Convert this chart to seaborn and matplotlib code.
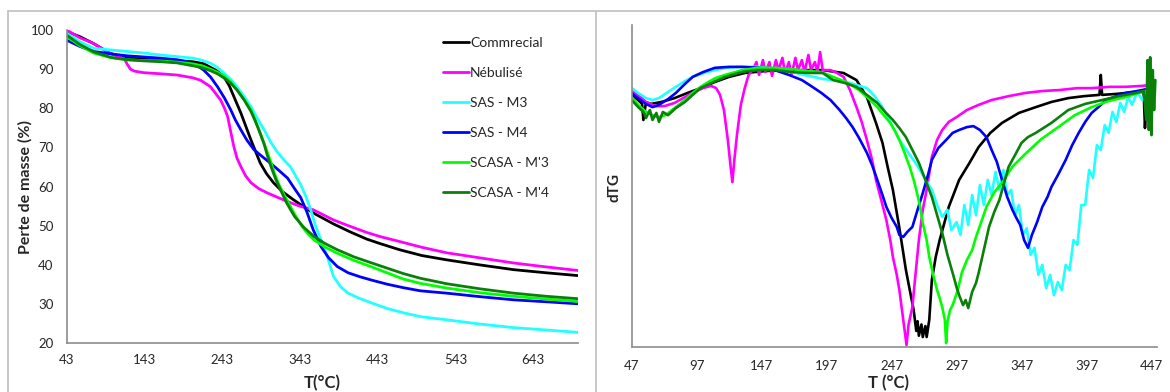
import matplotlib
matplotlib.use("Agg")
import matplotlib.pyplot as plt
import pandas as pd
import seaborn as sns
from matplotlib.lines import Line2D

sns.set_style("white")
plt.rcParams["font.family"] = ["Lato", "DejaVu Sans"]

SAMPLES = ["Commrecial", "Nébulisé", "SAS - M3", "SAS - M4", "SCASA - M'3", "SCASA - M'4"]
COLORS = ["#000000", "#ff00ff", "#22ffff", "#0000ff", "#00ff00", "#0a800a"]

# ---------------- TG curves: temperature (°C) / mass (%) ----------------
tg_com_T = [43, 60, 77, 99, 120, 143, 170, 189, 205, 219, 236, 245, 252, 258, 267, 280, 292, 300, 309, 320, 335, 350, 360, 386, 407, 429, 447, 471, 500, 532, 575, 618, 660, 700]
tg_com_m = [99.6, 98.3, 96.6, 94.0, 92.9, 92.5, 92.3, 92.1, 91.9, 91.4, 89.6, 88.1, 85.8, 83.0, 78.8, 71.9, 66.0, 63.3, 61.0, 58.8, 56.6, 54.6, 53.3, 50.5, 48.5, 46.6, 45.4, 43.9, 42.4, 41.3, 40.0, 38.8, 38.0, 37.3]

tg_neb_T = [43, 60, 77, 99, 110, 117, 121, 125, 130, 142, 165, 185, 205, 215, 228, 241, 246, 250, 254, 258, 262, 267, 273, 280, 290, 301, 315, 327, 343, 360, 386, 407, 429, 447, 471, 500, 532, 575, 618, 660, 700]
tg_neb_m = [100.0, 98.0, 96.6, 94.0, 93.2, 92.7, 91.2, 90.0, 89.5, 89.1, 88.8, 88.5, 87.8, 87.2, 85.5, 82.1, 80.0, 77.9, 74.0, 70.2, 67.3, 65.1, 62.8, 61.0, 59.5, 58.4, 57.2, 56.2, 55.0, 54.1, 51.5, 49.9, 48.3, 47.2, 46.0, 44.5, 43.1, 41.8, 40.5, 39.5, 38.6]

tg_m3_T = [43, 60, 78, 100, 121, 143, 164, 185, 206, 218, 228, 237, 245, 254, 262, 271, 280, 288, 297, 305, 314, 322, 331, 339, 344, 350, 357, 363, 370, 378, 386, 395, 404, 418, 434, 455, 476, 498, 532, 575, 618, 660, 700]
tg_m3_m = [99.2, 97.0, 95.3, 94.9, 94.5, 94.1, 93.6, 93.2, 92.8, 92.2, 91.5, 90.4, 89.0, 87.4, 85.5, 83.1, 80.4, 77.5, 74.5, 71.5, 68.8, 66.9, 65.0, 62.2, 60.5, 57.8, 54.0, 50.0, 46.4, 42.2, 37.1, 34.5, 32.9, 31.6, 30.4, 28.9, 27.8, 26.8, 26.0, 24.9, 24.0, 23.4, 22.8]

tg_m4_T = [43, 60, 78, 100, 121, 143, 164, 185, 198, 210, 219, 228, 237, 246, 254, 260, 267, 275, 284, 295, 305, 315, 327, 335, 344, 352, 360, 370, 380, 391, 405, 420, 434, 455, 476, 498, 532, 575, 618, 660, 700]
tg_m4_m = [97.4, 95.8, 94.5, 93.9, 93.4, 93.1, 92.8, 92.4, 91.9, 91.0, 89.8, 88.0, 85.5, 82.6, 79.6, 77.0, 74.5, 71.8, 69.4, 67.6, 66.0, 64.3, 62.2, 59.8, 57.2, 53.5, 49.0, 44.7, 41.8, 39.6, 38.0, 37.0, 36.2, 35.1, 34.2, 33.4, 32.8, 31.9, 31.1, 30.6, 30.1]

tg_sm3_T = [43, 60, 78, 100, 121, 143, 164, 185, 207, 218, 228, 237, 245, 254, 262, 271, 280, 286, 292, 297, 301, 306, 310, 316, 323, 330, 336, 345, 353, 361, 375, 391, 412, 434, 455, 476, 498, 532, 575, 618, 660, 700]
tg_sm3_m = [98.3, 96.0, 94.1, 92.9, 92.4, 92.2, 92.1, 91.8, 91.3, 90.8, 90.0, 89.2, 88.3, 86.7, 84.7, 82.3, 79.6, 76.8, 73.6, 71.0, 68.8, 66.0, 63.5, 60.5, 57.8, 55.2, 53.0, 50.0, 48.0, 46.4, 44.6, 43.0, 41.2, 39.6, 38.0, 36.4, 35.3, 34.1, 32.9, 32.0, 31.3, 30.7]

tg_sm4_T = [43, 60, 78, 100, 121, 143, 164, 185, 207, 218, 228, 237, 245, 254, 262, 271, 280, 286, 292, 297, 301, 306, 312, 318, 326, 336, 348, 361, 375, 391, 412, 434, 455, 476, 498, 532, 575, 618, 660, 700]
tg_sm4_m = [98.7, 96.3, 94.4, 93.0, 92.4, 92.1, 91.9, 91.6, 90.8, 90.3, 89.6, 88.8, 87.8, 86.4, 84.7, 82.2, 79.2, 76.5, 73.5, 70.8, 68.0, 65.0, 61.8, 59.2, 55.8, 52.4, 49.6, 47.3, 45.5, 43.9, 42.1, 40.6, 39.2, 37.8, 36.6, 35.2, 33.9, 32.8, 32.0, 31.4]

# ---------------- dTG curves: temperature (°C) / signal (a.u.) ----------------
dtg_com_T = [47, 52, 55, 56, 58, 62, 70, 80, 90, 100, 111, 122, 134, 150, 169, 194, 210, 220, 228, 235, 240, 244, 248, 253, 258, 261, 264, 266, 267, 268, 270, 271, 273, 274, 276, 278, 281, 284, 291, 299, 307, 314, 323, 332, 345, 358, 370, 383, 395, 407, 408, 409, 420, 435, 441, 442, 443, 445]
dtg_com_v = [78.3, 76.7, 75.5, 70.5, 76.0, 75.5, 76.1, 77.3, 78.9, 80.4, 82.3, 83.9, 85.1, 85.7, 86.0, 86.0, 85.1, 82.9, 77.6, 69.6, 63.4, 55.9, 48.8, 37.0, 24.0, 17.7, 11.5, 5.0, 8.0, 3.5, 7.0, 3.1, 6.5, 3.1, 8.4, 20.8, 28.0, 33.2, 43.5, 51.9, 57.2, 62.1, 66.5, 69.6, 72.7, 74.5, 76.1, 77.3, 77.9, 78.3, 84.5, 78.3, 78.6, 79.2, 79.2, 68.0, 75.0, 79.0]

dtg_neb_T = [47, 52, 58, 65, 72, 80, 88, 95, 102, 108, 112, 115, 118, 121, 123, 124.5, 126, 128, 131, 134, 137, 140, 143, 145, 148, 150, 153, 155, 158, 160, 163, 165, 168, 170, 173, 175, 178, 180, 183, 185, 188, 190, 192, 194, 200, 205, 210, 215, 220, 224, 228, 232, 235, 239, 243, 246, 248, 251, 253, 255, 257, 258.5, 260, 263, 265, 268, 271, 274, 278, 282, 286, 291, 297, 305, 314, 324, 337, 350, 363, 376, 390, 401, 415, 427, 440, 447]
dtg_neb_v = [79.8, 78.3, 76.1, 74.8, 74.8, 75.8, 77.6, 79.2, 80.4, 81.1, 80.4, 78.3, 73.6, 64.3, 56.5, 51.2, 58.1, 65.8, 75.2, 80.4, 84.5, 86.0, 88.5, 84.5, 89.1, 85.4, 88.5, 84.2, 89.1, 86.0, 89.8, 85.1, 88.5, 84.5, 89.8, 86.0, 89.1, 85.4, 90.7, 86.0, 88.5, 85.4, 91.6, 86.0, 86.0, 85.1, 83.9, 79.8, 74.5, 69.9, 64.3, 58.1, 51.9, 45.7, 39.4, 33.2, 28.0, 22.4, 17.7, 11.5, 5.3, 0.6, 6.8, 12.4, 20.8, 33.2, 42.6, 48.8, 59.0, 64.3, 67.4, 69.9, 71.4, 73.6, 75.2, 76.7, 77.9, 78.9, 79.5, 79.8, 80.4, 80.4, 80.8, 80.8, 81.1, 81.4]

dtg_m3_T = [47, 52, 58, 63, 68, 75, 81, 88, 94, 105, 119, 132, 144, 157, 170, 183, 195, 202, 215, 228, 234, 240, 246, 253, 260, 266, 272, 278, 282, 286, 290, 293, 297, 300, 303, 306, 309, 312, 315, 318, 321, 324, 327, 330, 333, 336, 339, 342, 345, 348, 351, 354, 357, 360, 363, 366, 369, 372, 375, 378, 381, 384, 387, 390, 393, 396, 399, 402, 405, 408, 411, 414, 417, 420, 423, 426, 429, 432, 436, 440, 444, 447]
dtg_m3_v = [80.4, 78.9, 77.3, 76.7, 77.3, 79.2, 80.8, 82.6, 83.9, 85.4, 86.7, 87.0, 87.0, 86.3, 85.4, 84.2, 83.2, 82.9, 82.0, 80.4, 77.9, 74.5, 69.9, 64.3, 60.3, 56.8, 52.8, 48.8, 44.1, 40.4, 42.6, 36.3, 38.8, 34.8, 44.1, 37.9, 47.2, 40.9, 50.3, 44.1, 51.9, 47.2, 54.4, 48.8, 55.0, 47.2, 48.8, 40.9, 44.1, 34.8, 36.9, 28.6, 30.8, 22.4, 25.5, 18.3, 22.4, 16.1, 20.2, 17.7, 25.5, 23.9, 33.2, 31.7, 44.1, 44.1, 55.0, 52.5, 62.7, 61.2, 68.9, 66.5, 73.0, 69.9, 75.8, 73.0, 77.6, 75.2, 79.2, 76.7, 80.4, 78.3]

dtg_m4_T = [47, 52, 58, 63, 68, 75, 81, 88, 94, 102, 111, 122, 132, 145, 157, 168, 178, 186, 193, 200, 207, 212, 217, 222, 228, 232, 236, 240, 243, 247, 251, 253, 256, 259, 263, 267, 271, 275, 278, 283, 289, 294, 299, 305, 310, 315, 320, 324, 328, 332, 336, 340, 343, 346, 349, 352, 355, 359, 363, 367, 370, 375, 381, 386, 391, 396, 401, 407, 412, 420, 427, 436, 447]
dtg_m4_v = [78.9, 77.3, 75.5, 74.5, 75.2, 77.0, 78.9, 81.7, 83.9, 85.4, 86.7, 87.0, 87.0, 86.7, 86.0, 84.5, 82.9, 80.8, 78.9, 76.7, 73.6, 71.1, 68.3, 64.9, 60.3, 56.5, 51.9, 47.2, 43.5, 40.1, 37.3, 34.8, 34.2, 35.7, 37.3, 42.6, 47.8, 53.4, 58.1, 61.8, 64.3, 66.5, 67.4, 68.3, 68.6, 67.4, 65.2, 61.2, 57.5, 51.9, 46.6, 42.6, 40.1, 37.9, 33.2, 30.8, 34.8, 38.8, 43.5, 46.6, 49.7, 53.4, 58.1, 62.7, 66.5, 69.9, 72.7, 74.8, 76.7, 77.9, 78.9, 79.5, 80.4]

dtg_sm3_T = [47, 52, 58, 63, 68, 73, 81, 88, 94, 100, 106, 112, 119, 132, 144, 157, 170, 183, 193, 202, 212, 222, 229, 236, 241, 246, 250, 253, 257, 261, 264, 266, 269, 271, 274, 276, 279, 282, 284, 286, 288, 289, 290, 292, 294, 298, 301, 305, 309, 312, 316, 320, 326, 332, 340, 350, 362, 376, 388, 401, 414, 427, 437, 445]
dtg_sm3_v = [77.6, 75.2, 73.0, 72.0, 71.4, 72.0, 74.5, 76.7, 78.9, 80.8, 82.3, 83.6, 84.5, 86.0, 86.7, 86.7, 86.3, 85.7, 85.4, 83.9, 82.3, 79.8, 77.3, 74.5, 72.0, 69.6, 66.8, 64.3, 60.3, 55.9, 51.9, 48.8, 43.5, 38.5, 33.2, 28.0, 22.4, 17.7, 15.2, 12.4, 8.4, 1.2, 7.8, 11.5, 13.0, 17.7, 23.0, 27.0, 30.1, 34.2, 38.8, 43.5, 48.0, 51.0, 56.0, 60.0, 64.5, 68.5, 72.0, 74.5, 76.4, 77.6, 78.9, 79.8]

dtg_sm4_T = [47, 52, 56, 58, 61, 63, 66, 68, 71, 75, 81, 88, 94, 100, 110, 119, 132, 144, 157, 170, 183, 194, 202, 211, 220, 228, 236, 242, 248, 253, 258, 263, 268, 273, 278, 282, 286, 290, 294, 297, 299, 302, 304, 306, 309, 312, 314, 318, 322, 326, 330, 337, 342, 347, 352, 358, 370, 383, 396, 409, 422, 435, 441, 443, 444, 445, 446, 447, 448, 449, 450]
dtg_sm4_v = [76.7, 74.5, 73.0, 71.1, 73.6, 70.5, 72.7, 69.9, 73.0, 72.0, 74.2, 76.1, 78.3, 80.4, 82.3, 83.9, 85.4, 86.0, 86.0, 85.4, 85.1, 85.1, 82.9, 82.0, 80.8, 78.3, 75.8, 73.0, 70.5, 68.0, 65.2, 61.2, 57.2, 51.9, 46.6, 41.0, 35.4, 28.6, 23.0, 18.6, 16.1, 13.0, 14.6, 12.1, 17.1, 19.9, 23.0, 30.1, 37.3, 41.9, 45.7, 55.9, 59.6, 63.4, 65.2, 66.5, 69.6, 73.6, 75.5, 76.7, 77.9, 78.9, 79.5, 70.5, 89.1, 67.4, 90.0, 65.8, 86.0, 73.6, 82.9]


def long_frame(series, value_name):
    parts = []
    for name, (t, v) in zip(SAMPLES, series):
        parts.append(pd.DataFrame({"T": t, value_name: v, "echantillon": name}))
    return pd.concat(parts, ignore_index=True)


tg = long_frame([(tg_com_T, tg_com_m), (tg_neb_T, tg_neb_m), (tg_m3_T, tg_m3_m),
                 (tg_m4_T, tg_m4_m), (tg_sm3_T, tg_sm3_m), (tg_sm4_T, tg_sm4_m)], "masse")
dtg = long_frame([(dtg_com_T, dtg_com_v), (dtg_neb_T, dtg_neb_v), (dtg_m3_T, dtg_m3_v),
                  (dtg_m4_T, dtg_m4_v), (dtg_sm3_T, dtg_sm3_v), (dtg_sm4_T, dtg_sm4_v)], "dTG")
palette = dict(zip(SAMPLES, COLORS))

fig = plt.figure(figsize=(11.7, 3.92), dpi=100)
fig.patch.set_facecolor("white")

# chart frames
frame_kw = dict(color="#c4c4c4", lw=1.3, transform=fig.transFigure)
fig.add_artist(Line2D([0.0070, 1.0], [0.9719, 0.9719], **frame_kw))
fig.add_artist(Line2D([0.0070, 0.0070], [0.0, 0.9719], **frame_kw))
fig.add_artist(Line2D([0.5098, 0.5098], [0.0, 0.9719], **frame_kw))

spine_col = "#8c8c8c"
tick_col = "#262626"

# ---- left: TG ----
ax1 = fig.add_axes([0.0570, 0.1242, 0.4373, 0.7993])
sns.lineplot(data=tg, x="T", y="masse", hue="echantillon", hue_order=SAMPLES,
             palette=palette, estimator=None, sort=False, lw=2.0, ax=ax1, legend=False)
ax1.set_xlim(43, 701)
ax1.set_ylim(20, 100)
ax1.set_xticks(range(43, 700, 100))
ax1.set_yticks(range(20, 101, 10))
for s in ("top", "right"):
    ax1.spines[s].set_visible(False)
for s in ("left", "bottom"):
    ax1.spines[s].set_color(spine_col)
    ax1.spines[s].set_linewidth(1.2)
ax1.tick_params(axis="both", direction="out", length=3, width=1, color=spine_col,
                labelsize=9.5, labelcolor=tick_col)
ax1.tick_params(axis="x", pad=5)
ax1.tick_params(axis="y", pad=6.5)
ax1.set_xlabel("T(°C)", fontsize=12, fontweight="bold", va="center", ha="center")
ax1.xaxis.set_label_coords(0.5, -0.1267)
ax1.set_ylabel("Perte de masse (%)", fontsize=11.5, fontweight="bold", va="center", ha="center")
ax1.yaxis.set_label_coords(-0.0815, 0.5)

handles = [Line2D([], [], color=c, lw=2.0) for c in COLORS]
ax1.legend(handles, SAMPLES, loc="upper left", bbox_to_anchor=(443 / 1170, 1 - 37 / 392),
           bbox_transform=fig.transFigure, frameon=False, borderpad=0, borderaxespad=0,
           handlelength=1.85, handletextpad=0.1, labelspacing=1.29, fontsize=10)

# ---- right: dTG ----
ax2 = fig.add_axes([0.5399, 0.1148, 0.4487, 0.8214])
sns.lineplot(data=dtg, x="T", y="dTG", hue="echantillon", hue_order=SAMPLES,
             palette=palette, estimator=None, sort=False, lw=1.9, ax=ax2, legend=False)
ax2.set_xlim(47, 451)
ax2.set_ylim(0, 100)
ax2.set_xticks(range(47, 448, 50))
ax2.set_yticks([])
for s in ("top", "right"):
    ax2.spines[s].set_visible(False)
for s in ("left", "bottom"):
    ax2.spines[s].set_color(spine_col)
    ax2.spines[s].set_linewidth(1.2)
ax2.tick_params(axis="x", length=0, labelsize=9.5, labelcolor=tick_col, pad=9.5)
ax2.set_xlabel("T (°C)", fontsize=12, fontweight="bold", va="center", ha="center")
ax2.xaxis.set_label_coords(0.49, -0.1118)
ax2.set_ylabel("dTG", fontsize=11, fontweight="bold", va="center", ha="center")
ax2.yaxis.set_label_coords(-0.0318, 0.494)

fig.savefig("out.png", dpi=100, facecolor="white")
